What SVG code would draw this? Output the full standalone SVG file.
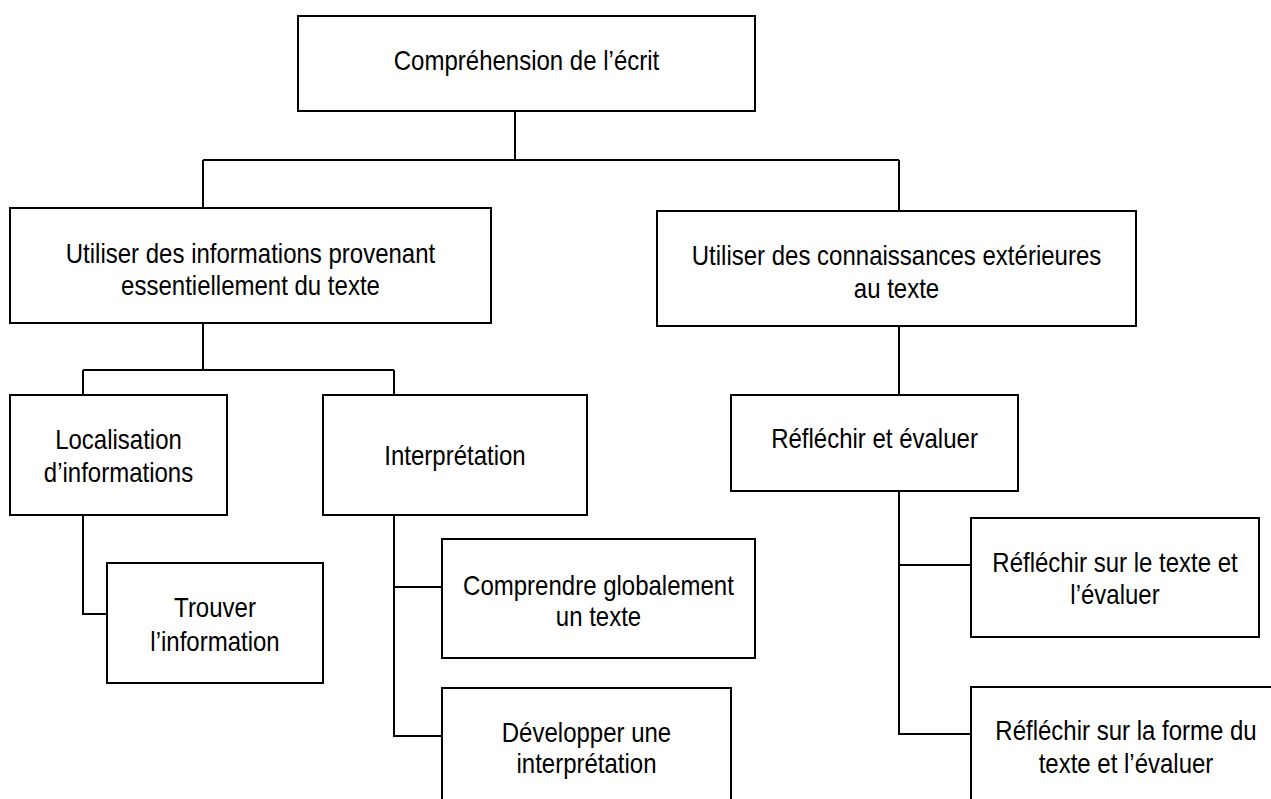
<svg xmlns="http://www.w3.org/2000/svg" width="1271" height="799" viewBox="0 0 1271 799">
<style>
  .box { fill: #ffffff; stroke: #000000; stroke-width: 2; }
  .conn { fill: none; stroke: #000000; stroke-width: 2; }
  text { font-family: "Liberation Sans", Arial, sans-serif; font-size: 24px; fill: #000000; text-anchor: middle; }
</style>
<rect x="0" y="0" width="1271" height="799" fill="#ffffff"/>
<g id="connectors">
  <path class="conn" d="M515 111 V160 M203 160 H899 M203 160 V208 M899 160 V211"/>
  <path class="conn" d="M203 323 V370 M83 370 H394 M83 370 V395 M394 370 V395"/>
  <path class="conn" d="M83 515 V614 H107"/>
  <path class="conn" d="M394 515 V736 H442 M394 587 H442"/>
  <path class="conn" d="M899 326 V395"/>
  <path class="conn" d="M899 491 V734 M899 565 H971 M898 734 H971"/>
</g>
<g id="node-root">
  <rect class="box" x="298" y="16" width="457" height="95"/>
  <text transform="translate(526.5 70) scale(1 1.15)">Compréhension de l’écrit</text>
</g>
<g id="node-info-texte">
  <rect class="box" x="10" y="208" width="481" height="115"/>
  <text transform="translate(250.5 263) scale(1 1.15)">Utiliser des informations provenant</text>
  <text transform="translate(250.5 295) scale(1 1.15)">essentiellement du texte</text>
</g>
<g id="node-connaissances">
  <rect class="box" x="657" y="211" width="479" height="115"/>
  <text transform="translate(896.5 265) scale(1 1.15)">Utiliser des connaissances extérieures</text>
  <text transform="translate(896.5 298) scale(1 1.15)">au texte</text>
</g>
<g id="node-localisation">
  <rect class="box" x="10" y="395" width="217" height="120"/>
  <text transform="translate(118.5 449) scale(1 1.15)">Localisation</text>
  <text transform="translate(118.5 482) scale(1 1.15)">d’informations</text>
</g>
<g id="node-interpretation">
  <rect class="box" x="323" y="395" width="264" height="120"/>
  <text transform="translate(455 465) scale(1 1.15)">Interprétation</text>
</g>
<g id="node-trouver">
  <rect class="box" x="107" y="563" width="216" height="120"/>
  <text transform="translate(215 617) scale(1 1.15)">Trouver</text>
  <text transform="translate(215 651) scale(1 1.15)">l’information</text>
</g>
<g id="node-comprendre">
  <rect class="box" x="442" y="539" width="313" height="119"/>
  <text transform="translate(598.5 595) scale(1 1.15)">Comprendre globalement</text>
  <text transform="translate(598.5 626) scale(1 1.15)">un texte</text>
</g>
<g id="node-developper">
  <rect class="box" x="442" y="688" width="289" height="130"/>
  <text transform="translate(586.5 742) scale(1 1.15)">Développer une</text>
  <text transform="translate(586.5 773) scale(1 1.15)">interprétation</text>
</g>
<g id="node-reflechir">
  <rect class="box" x="731" y="395" width="287" height="96"/>
  <text transform="translate(874.5 448) scale(1 1.15)">Réfléchir et évaluer</text>
</g>
<g id="node-reflechir-texte">
  <rect class="box" x="971" y="518" width="288" height="119"/>
  <text transform="translate(1115 572) scale(1 1.15)">Réfléchir sur le texte et</text>
  <text transform="translate(1115 604) scale(1 1.15)">l’évaluer</text>
</g>
<g id="node-reflechir-forme">
  <rect class="box" x="971" y="687" width="320" height="130"/>
  <text transform="translate(1126 740) scale(1 1.15)">Réfléchir sur la forme du</text>
  <text transform="translate(1126 773) scale(1 1.15)">texte et l’évaluer</text>
</g>
</svg>
